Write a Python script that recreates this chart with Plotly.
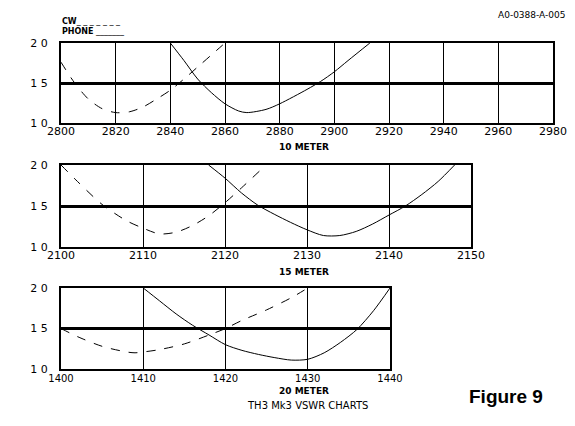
import plotly.graph_objects as go

# ---------------- data ----------------
# 10 meter band (kHz shown as 2800..2980 -> 28.00..29.80 MHz)
m10_ticks = [2800, 2820, 2840, 2860, 2880, 2900, 2920, 2940, 2960, 2980]
m10_cw_x = [2800, 2805, 2810, 2815, 2820, 2825, 2830, 2835, 2840, 2845, 2850, 2855, 2860]
m10_cw_y = [1.76, 1.50, 1.30, 1.18, 1.13, 1.14, 1.20, 1.30, 1.41, 1.55, 1.70, 1.85, 2.00]
m10_ph_x = [2840, 2845, 2850, 2855, 2860, 2865, 2868, 2875, 2880, 2890, 2895, 2900, 2905, 2913]
m10_ph_y = [2.00, 1.78, 1.55, 1.38, 1.24, 1.15, 1.13, 1.17, 1.24, 1.42, 1.52, 1.64, 1.78, 2.00]

# 15 meter band
m15_ticks = [2100, 2110, 2120, 2130, 2140, 2150]
m15_cw_x = [2100, 2102, 2105, 2108, 2110, 2112, 2114, 2116, 2118, 2120, 2122, 2125]
m15_cw_y = [2.00, 1.80, 1.52, 1.32, 1.23, 1.16, 1.18, 1.26, 1.38, 1.54, 1.72, 2.00]
m15_ph_x = [2118, 2120, 2122, 2124, 2126, 2128, 2130, 2132, 2134, 2136, 2138, 2140, 2142, 2144, 2146, 2148]
m15_ph_y = [2.00, 1.84, 1.66, 1.51, 1.40, 1.30, 1.21, 1.14, 1.14, 1.19, 1.28, 1.39, 1.50, 1.64, 1.80, 2.00]

# 20 meter band
m20_ticks = [1400, 1410, 1420, 1430, 1440]
m20_cw_x = [1400, 1402, 1405, 1408, 1409, 1410, 1412, 1415, 1418, 1420, 1422, 1425, 1428, 1430]
m20_cw_y = [1.50, 1.40, 1.28, 1.21, 1.20, 1.21, 1.24, 1.31, 1.42, 1.50, 1.60, 1.73, 1.88, 2.00]
m20_ph_x = [1410, 1412, 1414, 1416, 1418, 1420, 1422, 1424, 1426, 1428, 1430, 1432, 1434, 1436, 1438, 1440]
m20_ph_y = [2.00, 1.84, 1.68, 1.54, 1.42, 1.30, 1.23, 1.18, 1.14, 1.11, 1.12, 1.20, 1.33, 1.49, 1.72, 2.00]

y_ticks = [1.0, 1.5, 2.0]
y_ticktext = ["1 0", "1 5", "2 0"]

panels = [
    ("10 METER", m10_ticks, m10_cw_x, m10_cw_y, m10_ph_x, m10_ph_y),
    ("15 METER", m15_ticks, m15_cw_x, m15_cw_y, m15_ph_x, m15_ph_y),
    ("20 METER", m20_ticks, m20_cw_x, m20_cw_y, m20_ph_x, m20_ph_y),
]

# ---------------- layout geometry (pixels) ----------------
W, H = 575, 426
boxes = [  # left, right, top, bottom
    (61, 553, 43, 123),
    (61, 471, 165, 247),
    (61, 390, 288, 369),
]
standoffs = [-3, -3, -1]
tick_sizes = [11, 11, 10]
title_x = [304, 304, 304]
title_y = [147, 272, 391]

FONT = "DejaVu Sans"
fig = go.Figure()
layout = dict(
    width=W, height=H,
    margin=dict(l=0, r=0, t=0, b=0, autoexpand=False),
    paper_bgcolor="white", plot_bgcolor="white",
    showlegend=False, hovermode=False,
    font=dict(family=FONT, color="black"),
)
annotations = []

for i, (name, ticks, cx, cy, px, py) in enumerate(panels):
    n = "" if i == 0 else str(i + 1)
    xa, ya = "x" + n, "y" + n
    l, r, t, b = boxes[i]
    fig.add_trace(go.Scatter(x=cx, y=cy, mode="lines", xaxis=xa, yaxis=ya,
                             line=dict(color="black", width=1, dash="dash", shape="spline", smoothing=0.8)))
    fig.add_trace(go.Scatter(x=px, y=py, mode="lines", xaxis=xa, yaxis=ya,
                             line=dict(color="black", width=1, shape="spline", smoothing=0.8)))
    layout["xaxis" + n] = dict(
        domain=[l / W, r / W], anchor=ya, automargin=False,
        range=[ticks[0], ticks[-1]], tickvals=ticks,
        showgrid=True, gridcolor="black", gridwidth=1,
        showline=True, linecolor="black", linewidth=2, mirror=True,
        zeroline=False, ticks="", ticklabelstandoff=standoffs[i],
        tickfont=dict(family=FONT, size=tick_sizes[i], color="black"),
    )
    layout["yaxis" + n] = dict(
        domain=[1 - b / H, 1 - t / H], anchor=xa, automargin=False,
        range=[1.0, 2.0], tickvals=y_ticks, ticktext=y_ticktext,
        showgrid=True, gridcolor="black", gridwidth=2.5,
        showline=True, linecolor="black", linewidth=2, mirror=True,
        zeroline=False, ticks="", ticklabelstandoff=9,
        tickfont=dict(family=FONT, size=11, color="black"),
    )
    annotations.append(dict(
        text="<b>" + name + "</b>", xref="paper", yref="paper",
        x=title_x[i] / W, y=1 - title_y[i] / H,
        xanchor="center", yanchor="middle", showarrow=False,
        font=dict(family=FONT, size=9, color="black"),
    ))

annotations += [
    dict(text="TH3 Mk3 VSWR CHARTS", xref="paper", yref="paper", x=307 / W, y=1 - 405 / H,
         xanchor="center", yanchor="middle", showarrow=False,
         font=dict(family=FONT, size=10, color="black")),
    dict(text="<b>Figure 9</b>", xref="paper", yref="paper", x=506 / W, y=1 - 396 / H,
         xanchor="center", yanchor="middle", showarrow=False,
         font=dict(family="Liberation Sans", size=19, color="black")),
    dict(text="A0-0388-A-005", xref="paper", yref="paper", x=567 / W, y=1 - 15 / H,
         xanchor="right", yanchor="middle", showarrow=False,
         font=dict(family=FONT, size=9, color="black")),
    dict(text="<b>CW</b>_ _ _ _ _ _ _", xref="paper", yref="paper", x=60 / W, y=1 - 22 / H,
         xanchor="left", yanchor="middle", showarrow=False,
         font=dict(family=FONT, size=8, color="black")),
    dict(text="<b>PHONE</b> _______", xref="paper", yref="paper", x=60 / W, y=1 - 32 / H,
         xanchor="left", yanchor="middle", showarrow=False,
         font=dict(family=FONT, size=8, color="black")),
]
layout["annotations"] = annotations
fig.update_layout(**layout)
fig.write_html(
    "out.html",
    config={"displayModeBar": False},
    post_script="document.body.style.margin='0';document.body.style.overflow='hidden';",
)
